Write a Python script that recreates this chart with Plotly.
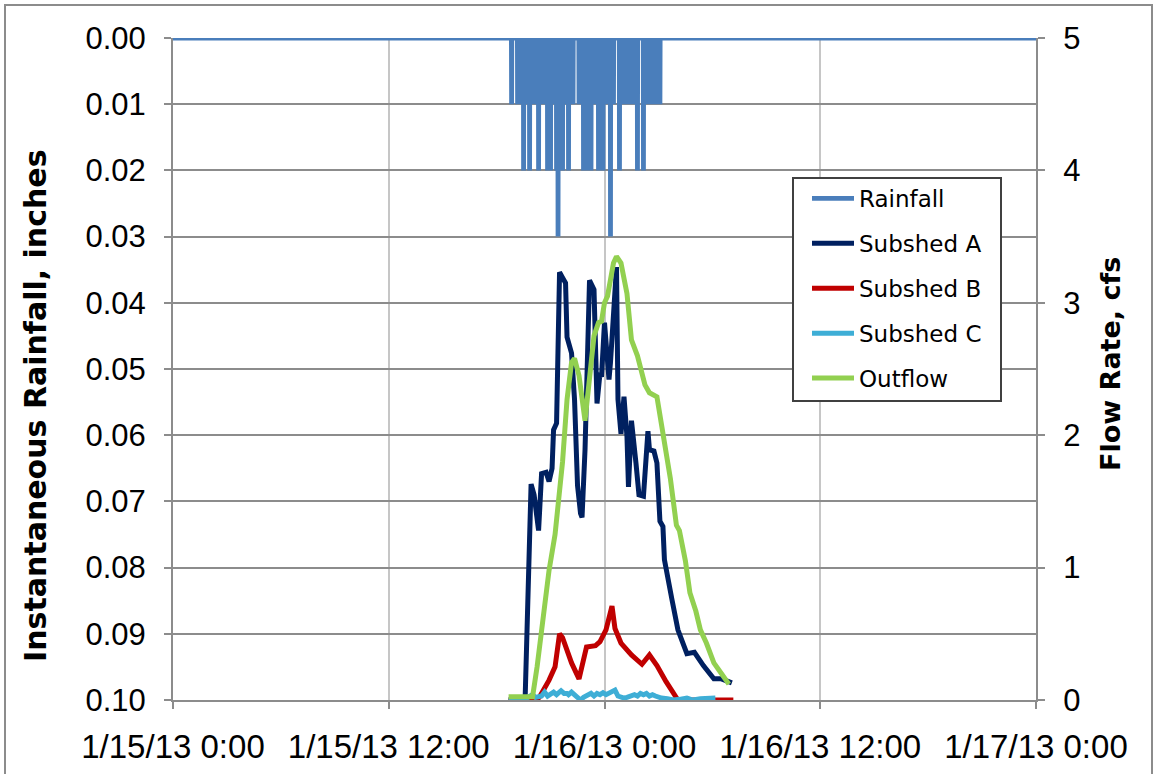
import plotly.graph_objects as go
import pandas as pd

# ---------------- data ----------------
x_range = ["2013-01-15 00:00", "2013-01-17 00:00"]

# Rainfall depth per 5-minute interval, starting 1/15/13 18:50 (inches)
rain_start = "2013-01-15 18:50"
rain_step_min = 5
rain_in = [
    0.01, 0, 0, 0, 0.01, 0.01, 0.01, 0.01, 0.02, 0.01, 0.01, 0.01,      # 18:50
    0.02, 0.01, 0.01, 0.01, 0.01, 0.01, 0.02, 0.01, 0.01, 0.01, 0.01, 0.01,  # 19:50
    0.02, 0.01, 0.02, 0.01, 0.01, 0.01, 0.02, 0.03, 0.02, 0.01, 0.02, 0.01,  # 20:50
    0.01, 0.01, 0.02, 0.01, 0.01, 0.01, 0, 0, 0, 0.01, 0.01, 0.01,      # 21:50
    0.02, 0.01, 0.02, 0.02, 0.01, 0.02, 0.01, 0.01, 0.01, 0.01, 0.02, 0.02,  # 22:50
    0.01, 0.02, 0.01, 0.01, 0.01, 0.01, 0.03, 0.01, 0.01, 0, 0, 0,      # 23:50
    0.02, 0.01, 0.01, 0.01, 0.01, 0.01, 0.01, 0.01, 0.01, 0.01, 0.01, 0.01,  # 00:50
    0.02, 0, 0, 0, 0.02, 0.01, 0.01, 0.01, 0.01, 0.01, 0.01, 0.01,      # 01:50
    0.01, 0.01, 0.01, 0.01,                                             # 02:50
]

a_time = ["2013-01-15 18:40", "2013-01-15 19:35", "2013-01-15 19:55", "2013-01-15 20:05",
          "2013-01-15 20:20", "2013-01-15 20:30", "2013-01-15 20:45", "2013-01-15 20:55",
          "2013-01-15 21:05", "2013-01-15 21:10", "2013-01-15 21:20", "2013-01-15 21:30",
          "2013-01-15 21:40", "2013-01-15 21:50", "2013-01-15 21:55", "2013-01-15 22:10",
          "2013-01-15 22:20", "2013-01-15 22:30", "2013-01-15 22:40", "2013-01-15 22:45",
          "2013-01-15 22:55", "2013-01-15 23:10", "2013-01-15 23:25", "2013-01-15 23:35",
          "2013-01-15 23:45", "2013-01-15 23:50", "2013-01-16 00:00", "2013-01-16 00:15",
          "2013-01-16 00:20", "2013-01-16 00:30", "2013-01-16 00:40", "2013-01-16 00:45",
          "2013-01-16 00:55", "2013-01-16 01:05", "2013-01-16 01:15", "2013-01-16 01:20",
          "2013-01-16 01:30", "2013-01-16 01:45", "2013-01-16 01:55", "2013-01-16 02:10",
          "2013-01-16 02:25", "2013-01-16 02:30", "2013-01-16 02:45", "2013-01-16 02:55",
          "2013-01-16 03:05", "2013-01-16 03:15", "2013-01-16 03:20", "2013-01-16 03:45",
          "2013-01-16 04:05", "2013-01-16 04:35", "2013-01-16 05:00", "2013-01-16 05:30",
          "2013-01-16 06:05", "2013-01-16 06:30", "2013-01-16 07:05"]
a_cfs = [0, 0, 1.63, 1.55,
         1.28, 1.71, 1.72, 1.65,
         1.75, 2.04, 2.09, 3.23,
         3.19, 3.15, 2.74, 2.62,
         2.27, 1.62, 1.41, 1.38,
         1.89, 3.17, 3.10, 2.24,
         2.47, 2.44, 2.85, 2.42,
         2.55, 2.97, 3.27, 2.27,
         2.01, 2.29, 1.99, 1.61,
         2.11, 1.79, 1.55, 1.54,
         2.03, 1.89, 1.88, 1.79,
         1.35, 1.31, 1.06, 0.76,
         0.53, 0.35, 0.36, 0.26,
         0.16, 0.16, 0.13]

b_time = ["2013-01-15 18:40", "2013-01-15 20:15", "2013-01-15 20:25", "2013-01-15 20:55",
          "2013-01-15 21:15", "2013-01-15 21:30", "2013-01-15 21:40", "2013-01-15 21:55",
          "2013-01-15 22:05", "2013-01-15 22:10", "2013-01-15 22:35", "2013-01-15 23:00",
          "2013-01-15 23:30", "2013-01-15 23:45", "2013-01-16 00:05", "2013-01-16 00:25",
          "2013-01-16 00:35", "2013-01-16 00:55", "2013-01-16 01:30", "2013-01-16 02:05",
          "2013-01-16 02:30", "2013-01-16 02:55", "2013-01-16 03:25", "2013-01-16 04:05",
          "2013-01-16 07:10"]
b_cfs = [0, 0, 0.03, 0.15,
         0.25, 0.50, 0.47, 0.38,
         0.33, 0.28, 0.16, 0.40,
         0.41, 0.44, 0.53, 0.71,
         0.54, 0.43, 0.34, 0.27,
         0.34, 0.26, 0.14, 0,
         0]

c_time = ["2013-01-15 18:40", "2013-01-15 19:30", "2013-01-15 20:00", "2013-01-15 20:10",
          "2013-01-15 20:30", "2013-01-15 20:40", "2013-01-15 20:50", "2013-01-15 21:00",
          "2013-01-15 21:10", "2013-01-15 21:20", "2013-01-15 21:35", "2013-01-15 21:45",
          "2013-01-15 21:55", "2013-01-15 22:00", "2013-01-15 22:10", "2013-01-15 22:25",
          "2013-01-15 22:40", "2013-01-15 22:50", "2013-01-15 23:05", "2013-01-15 23:15",
          "2013-01-15 23:25", "2013-01-15 23:35", "2013-01-15 23:45", "2013-01-15 23:55",
          "2013-01-16 00:05", "2013-01-16 00:15", "2013-01-16 00:25", "2013-01-16 00:35",
          "2013-01-16 00:45", "2013-01-16 00:55", "2013-01-16 01:05", "2013-01-16 01:15",
          "2013-01-16 01:25", "2013-01-16 01:40", "2013-01-16 01:50", "2013-01-16 02:00",
          "2013-01-16 02:10", "2013-01-16 02:20", "2013-01-16 02:30", "2013-01-16 02:40",
          "2013-01-16 02:50", "2013-01-16 03:00", "2013-01-16 03:10", "2013-01-16 03:30",
          "2013-01-16 03:50", "2013-01-16 04:10", "2013-01-16 04:35", "2013-01-16 04:55",
          "2013-01-16 05:20", "2013-01-16 06:10"]
c_cfs = [0, 0, 0.04, 0.02,
         0.03, 0.06, 0.03, 0.04,
         0.06, 0.04, 0.07, 0.05,
         0.05, 0.04, 0.06, 0.03,
         0.0, 0.02, 0.04, 0.05,
         0.03, 0.05, 0.04, 0.055,
         0.04, 0.05, 0.06, 0.075,
         0.03, 0.02, 0.015, 0.02,
         0.03, 0.04, 0.03, 0.05,
         0.04, 0.05, 0.03, 0.04,
         0.03, 0.02, 0.015, 0.01,
         0, 0.005, 0.015, 0,
         0.01, 0.015]

out_time = ["2013-01-15 18:40", "2013-01-15 20:00", "2013-01-15 20:15", "2013-01-15 20:35",
            "2013-01-15 20:55", "2013-01-15 21:15", "2013-01-15 21:30", "2013-01-15 21:40",
            "2013-01-15 21:55", "2013-01-15 22:10", "2013-01-15 22:20", "2013-01-15 22:35",
            "2013-01-15 22:55", "2013-01-15 23:10", "2013-01-15 23:25", "2013-01-15 23:40",
            "2013-01-15 23:50", "2013-01-16 00:00", "2013-01-16 00:10", "2013-01-16 00:30",
            "2013-01-16 00:40", "2013-01-16 00:55", "2013-01-16 01:15", "2013-01-16 01:30",
            "2013-01-16 01:50", "2013-01-16 02:15", "2013-01-16 02:30", "2013-01-16 02:55",
            "2013-01-16 03:15", "2013-01-16 03:40", "2013-01-16 04:00", "2013-01-16 04:10",
            "2013-01-16 04:30", "2013-01-16 04:45", "2013-01-16 05:05", "2013-01-16 05:20",
            "2013-01-16 05:40", "2013-01-16 06:05", "2013-01-16 06:30", "2013-01-16 06:55"]
out_cfs = [0.025, 0.025, 0.25, 0.65,
           0.98, 1.25, 1.55, 1.80,
           2.27, 2.55, 2.58, 2.45,
           2.11, 2.45, 2.75, 2.85,
           2.86, 3.00, 3.05, 3.30,
           3.35, 3.30, 3.07, 2.72,
           2.60, 2.38, 2.32, 2.29,
           2.01, 1.67, 1.32, 1.28,
           1.05, 0.81, 0.67, 0.53,
           0.43, 0.28, 0.20, 0.12]

# ---------------- rainfall trace: each interval drawn as a spike ----------------
t0 = pd.Timestamp(rain_start)
half = pd.Timedelta(seconds=40)
rain_x = [pd.Timestamp(x_range[0])]
rain_y = [0]
for k, v in enumerate(rain_in):
    if v > 0:
        t = t0 + pd.Timedelta(minutes=rain_step_min * k)
        rain_x += [t - half, t, t + half]
        rain_y += [0, v, 0]
rain_x.append(pd.Timestamp(x_range[1]))
rain_y.append(0)

# ---------------- styling ----------------
W, H = 1154, 774
L, R, T, B = 173, 1036, 38, 700          # plot area in pixels


def px(x):
    return (x - L) / (R - L)


def py(y):
    return (B - y) / (B - T)


YTICK_FONT = dict(family="Liberation Sans, Arial, sans-serif", size=31, color="#000000")
XTICK_FONT = dict(family="Liberation Sans, Arial, sans-serif", size=33, color="#000000")
TITLE_FAMILY = "DejaVu Sans, Verdana, sans-serif"
GRID_H = "#8c8c8c"
GRID_V = "#c6c6c6"
AXIS = "#8c8c8c"
LW = 5

fig = go.Figure()
fig.add_trace(go.Scatter(x=rain_x, y=rain_y, name="Rainfall", mode="lines",
                         line=dict(color="#4a7ebb", width=4.8), yaxis="y", legendgroup="r"))
fig.add_trace(go.Scatter(x=pd.to_datetime(a_time), y=a_cfs, name="Subshed A", mode="lines",
                         line=dict(color="#002060", width=LW), yaxis="y2", legendgroup="a"))
fig.add_trace(go.Scatter(x=pd.to_datetime(b_time), y=b_cfs, name="Subshed B", mode="lines",
                         line=dict(color="#c00000", width=LW), yaxis="y2", legendgroup="b"))
fig.add_trace(go.Scatter(x=pd.to_datetime(c_time), y=c_cfs, name="Subshed C", mode="lines",
                         line=dict(color="#3eaed6", width=LW), yaxis="y2", legendgroup="c"))
fig.add_trace(go.Scatter(x=pd.to_datetime(out_time), y=out_cfs, name="Outflow", mode="lines",
                         line=dict(color="#92d050", width=LW), yaxis="y2", legendgroup="o"))

fig.update_layout(
    width=W, height=H,
    margin=dict(l=L, r=W - R, t=T, b=H - B, autoexpand=False),
    paper_bgcolor="white", plot_bgcolor="white",
    showlegend=True,
    legend=dict(x=px(805), y=py(175), xanchor="left", yanchor="top",
                bgcolor="rgba(0,0,0,0)", bordercolor="rgba(0,0,0,0)", borderwidth=2,
                font=dict(family=TITLE_FAMILY, size=23, color="#000000"),
                traceorder="grouped", tracegroupgap=12, itemwidth=42),
    xaxis=dict(type="date", range=x_range, tick0=x_range[0], dtick=12 * 3600 * 1000,
               tickformat="%-m/%-d/%y %-H:%M", tickfont=XTICK_FONT, automargin=False,
               showgrid=True, gridcolor=GRID_V, gridwidth=2,
               ticks="outside", ticklen=7, tickcolor=AXIS, tickwidth=2,
               showline=True, linecolor=AXIS, linewidth=2, zeroline=False,
               ticklabelstandoff=9),
    yaxis=dict(range=[0.1000001, -0.0000001], dtick=0.01, tick0=0, tickformat=".2f",
               tickfont=YTICK_FONT, automargin=False,
               showgrid=True, gridcolor=GRID_H, gridwidth=2,
               ticks="outside", ticklen=7, tickcolor=AXIS, tickwidth=2,
               showline=True, linecolor=AXIS, linewidth=2, zeroline=False,
               ticklabelstandoff=12),
    yaxis2=dict(range=[-0.0000001, 5.0000001], dtick=1, tick0=0, overlaying="y", side="right",
                tickfont=YTICK_FONT, showgrid=False, automargin=False,
                ticks="outside", ticklen=7, tickcolor=AXIS, tickwidth=2,
                showline=True, linecolor=AXIS, linewidth=2, zeroline=False,
                ticklabelstandoff=12),
    annotations=[
        dict(text="<b>Instantaneous Rainfall, inches</b>", textangle=-90,
             xref="paper", yref="paper", x=px(35), y=py(406),
             xanchor="center", yanchor="middle", showarrow=False,
             font=dict(family=TITLE_FAMILY, size=30, color="#000000")),
        dict(text="<b>Flow Rate, cfs</b>", textangle=-90,
             xref="paper", yref="paper", x=px(1110), y=py(364),
             xanchor="center", yanchor="middle", showarrow=False,
             font=dict(family=TITLE_FAMILY, size=27, color="#000000")),
    ],
    shapes=[
        # outer chart frame
        dict(type="rect", xref="paper", yref="paper",
             x0=px(5), x1=px(1152), y0=py(790), y1=py(5),
             line=dict(color="#8c8c8c", width=2), fillcolor="rgba(0,0,0,0)", layer="below"),
        # legend box
        dict(type="rect", xref="paper", yref="paper",
             x0=px(793), x1=px(1001), y0=py(401), y1=py(178),
             line=dict(color="#404040", width=2), fillcolor="white", layer="above"),
    ],
)

fig.write_html("out.html")
